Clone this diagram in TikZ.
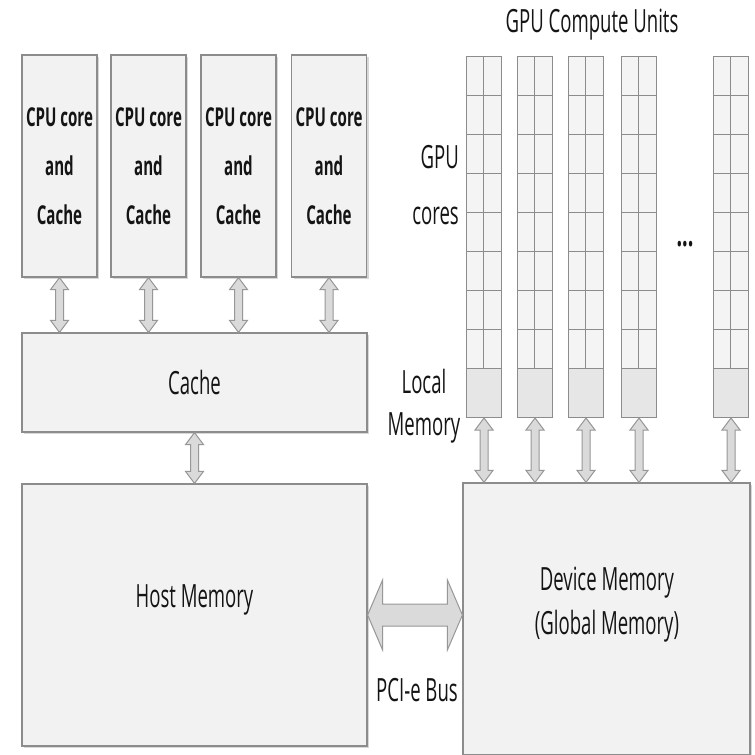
\documentclass[tikz,border=0pt]{standalone}
\usepackage{fontspec}
\setmainfont{Open Sans}[FakeStretch=0.58]
\usepackage{tikz}
\usetikzlibrary{calc, shadows}
\usepackage{xcolor}
\definecolor{hwfill}{HTML}{F2F2F2}
\definecolor{hwline}{HTML}{8C8C8C}
\definecolor{hwcell}{HTML}{F4F4F4}
\definecolor{hwtext}{HTML}{141414}
\tikzset{
  hwbox/.style={draw=hwline, fill=hwfill, line width=1.2pt, inner sep=0pt,
                drop shadow={shadow xshift=2pt, shadow yshift=-2pt, opacity=0.3},
                text=hwtext, font=\fontsize{32}{44}\selectfont, align=center},
  cpubox/.style={hwbox, minimum width=75pt, minimum height=222pt,
                 font=\bfseries\fontsize{26}{49}\selectfont},
  corecell/.style={draw=hwline, fill=hwcell, line width=1pt},
  lmbox/.style={draw=hwline, fill=hwfill!95!black, line width=1pt, inner sep=0pt,
                minimum width=35pt, minimum height=49pt},
  lbl/.style={text=hwtext, font=\fontsize{32}{44}\selectfont, align=center, inner sep=0pt},
  linkarrow/.style={draw=hwline!90, fill=hwfill!90!black, line width=1pt, line join=miter},
}
% hollow two-way arrow, going down from #1 to the level of #2
\newcommand{\vlink}[2]{%
  \draw[linkarrow] let \p1=(#1), \p2=(#2) in
    (\x1,\y1) -- (\x1+9pt,\y1-12pt) -- (\x1+4pt,\y1-12pt) -- (\x1+4pt,\y2+12pt)
    -- (\x1+9pt,\y2+12pt) -- (\x1,\y2) -- (\x1-9pt,\y2+12pt) -- (\x1-4pt,\y2+12pt)
    -- (\x1-4pt,\y1-12pt) -- (\x1-9pt,\y1-12pt) -- cycle;}
\begin{document}
\begin{tikzpicture}[x=1pt, y=-1pt]
  \useasboundingbox[fill=white] (0,0) rectangle (755,755);

  % host side
  \foreach \cx [count=\i] in {59.5, 148.5, 238.5, 329}
    \node[cpubox] (cpu\i) at (\cx,166) {CPU core\\and\\Cache};
  \node[hwbox, minimum width=345pt, minimum height=99pt] (cache) at (194.5,382.5) {Cache};
  \node[hwbox, minimum width=345pt, minimum height=262pt] (host) at (194.5,615) {};
  \node[lbl] (hostlbl) at (194.5,600) {Host Memory};

  % device side
  \node[hwbox, minimum width=287pt, minimum height=272pt] (device) at (606.5,619) {};
  \node[lbl] (devlbl) at (607,605) {Device Memory\\(Global Memory)};
  \foreach \cx [count=\i] in {466, 517, 568, 621, 713} {
    \foreach \r in {0,...,7} {
      \draw[corecell] (\cx,56+39*\r) rectangle ++(17.5,39);
      \draw[corecell] (\cx+17.5,56+39*\r) rectangle ++(17.5,39);
    }
    \node[lmbox, anchor=north west] (lm\i) at (\cx,368) {};
  }

  \node[lbl] (gcu) at (592,25) {GPU Compute Units};
  \node[lbl, align=right, anchor=east, font=\fontsize{32}{56}\selectfont] (gcores) at (459,185) {GPU\\cores};
  \node[lbl, font=\fontsize{32}{42}\selectfont] (lmlbl) at (424,406) {Local\\Memory};
  \node[lbl, font=\bfseries\fontsize{34}{36}\selectfont] (dots) at (685,244) {...};
  \node[lbl] (pcie) at (417,690) {PCI-e Bus};

  % links
  \foreach \i in {1,...,4}
    \vlink{cpu\i.south}{cpu\i.south |- cache.north};
  \vlink{cache.south}{host.north};
  \foreach \i in {1,...,5}
    \vlink{lm\i.south}{lm\i.south |- device.north};
  \draw[linkarrow] let \p1=(host.east), \p2=(host.east -| device.west) in
    (\x1,\y1) -- (\x1+15pt,\y1+35pt) -- (\x1+15pt,\y1+11pt) -- (\x2-15pt,\y1+11pt)
    -- (\x2-15pt,\y1+35pt) -- (\x2,\y1) -- (\x2-15pt,\y1-35pt) -- (\x2-15pt,\y1-11pt)
    -- (\x1+15pt,\y1-11pt) -- (\x1+15pt,\y1-35pt) -- cycle;
\end{tikzpicture}
\end{document}
